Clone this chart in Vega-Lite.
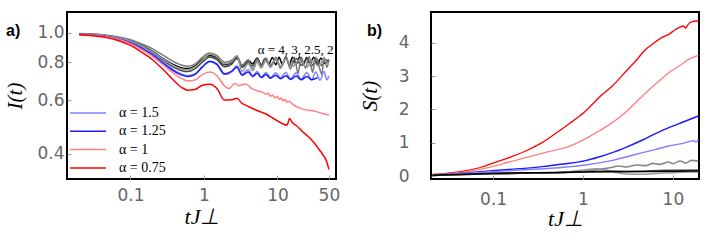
{
  "$schema": "https://vega.github.io/schema/vega-lite/v6.json",
  "padding": {"left": 3, "top": 11, "right": 0, "bottom": 0},
  "background": "white",
  "bounds": "flush",
  "spacing": 95,
  "config": {
    "view": {"stroke": "black", "strokeWidth": 2},
    "axis": {"domain": false, "grid": false, "labelFont": "DejaVu Sans", "labelFontSize": 17, "labelColor": "#666666", "tickColor": "#999999", "tickSize": -4, "titleFont": "Liberation Serif", "titleFontStyle": "italic", "titleFontWeight": "normal", "titleColor": "black", "titleFontSize": 21}
  },
  "datasets": {
    "Ia": [
      {"a":"4","t":0.02,"v":0.992},{"a":"4","t":0.03,"v":0.988},{"a":"4","t":0.045,"v":0.98},{"a":"4","t":0.066,"v":0.965},{"a":"4","t":0.1,"v":0.94},{"a":"4","t":0.14,"v":0.908},{"a":"4","t":0.2,"v":0.868},{"a":"4","t":0.28,"v":0.822},{"a":"4","t":0.38,"v":0.787},{"a":"4","t":0.5,"v":0.766},{"a":"4","t":0.6,"v":0.762},{"a":"4","t":0.75,"v":0.776},{"a":"4","t":0.95,"v":0.815},{"a":"4","t":1.2,"v":0.842},{"a":"4","t":1.5,"v":0.828},{"a":"4","t":1.9,"v":0.785},{"a":"4","t":2.4,"v":0.8},{"a":"4","t":2.8,"v":0.832},{"a":"4","t":3.3,"v":0.778},{"a":"4","t":4,"v":0.812},{"a":"4","t":4.6,"v":0.79},{"a":"4","t":5.3,"v":0.825},{"a":"4","t":6,"v":0.782},{"a":"4","t":6.8,"v":0.822},{"a":"4","t":7.6,"v":0.786},{"a":"4","t":8.5,"v":0.828},{"a":"4","t":9.5,"v":0.784},{"a":"4","t":10.5,"v":0.83},{"a":"4","t":11.7,"v":0.786},{"a":"4","t":13,"v":0.832},{"a":"4","t":14.5,"v":0.785},{"a":"4","t":16,"v":0.83},{"a":"4","t":18,"v":0.788},{"a":"4","t":20,"v":0.832},{"a":"4","t":22.5,"v":0.786},{"a":"4","t":25,"v":0.828},{"a":"4","t":28,"v":0.79},{"a":"4","t":31,"v":0.83},{"a":"4","t":35,"v":0.788},{"a":"4","t":39,"v":0.826},{"a":"4","t":44,"v":0.792},{"a":"4","t":50,"v":0.815},
      {"a":"3","t":0.02,"v":0.99},{"a":"3","t":0.045,"v":0.977},{"a":"3","t":0.1,"v":0.935},{"a":"3","t":0.14,"v":0.902},{"a":"3","t":0.2,"v":0.86},{"a":"3","t":0.28,"v":0.812},{"a":"3","t":0.38,"v":0.772},{"a":"3","t":0.5,"v":0.75},{"a":"3","t":0.6,"v":0.745},{"a":"3","t":0.75,"v":0.76},{"a":"3","t":0.95,"v":0.8},{"a":"3","t":1.2,"v":0.832},{"a":"3","t":1.5,"v":0.815},{"a":"3","t":1.9,"v":0.772},{"a":"3","t":2.4,"v":0.79},{"a":"3","t":2.8,"v":0.822},{"a":"3","t":3.3,"v":0.768},{"a":"3","t":4,"v":0.8},{"a":"3","t":4.6,"v":0.778},{"a":"3","t":5.3,"v":0.815},{"a":"3","t":6,"v":0.775},{"a":"3","t":7,"v":0.812},{"a":"3","t":8,"v":0.78},{"a":"3","t":9.5,"v":0.818},{"a":"3","t":11,"v":0.776},{"a":"3","t":13,"v":0.82},{"a":"3","t":15,"v":0.778},{"a":"3","t":18,"v":0.822},{"a":"3","t":21,"v":0.78},{"a":"3","t":25,"v":0.818},{"a":"3","t":29,"v":0.776},{"a":"3","t":34,"v":0.82},{"a":"3","t":40,"v":0.78},{"a":"3","t":46,"v":0.815},{"a":"3","t":50,"v":0.8},
      {"a":"2.5","t":0.02,"v":0.995},{"a":"2.5","t":0.045,"v":0.983},{"a":"2.5","t":0.1,"v":0.948},{"a":"2.5","t":0.14,"v":0.92},{"a":"2.5","t":0.2,"v":0.885},{"a":"2.5","t":0.28,"v":0.842},{"a":"2.5","t":0.38,"v":0.805},{"a":"2.5","t":0.5,"v":0.782},{"a":"2.5","t":0.6,"v":0.776},{"a":"2.5","t":0.75,"v":0.788},{"a":"2.5","t":0.95,"v":0.83},{"a":"2.5","t":1.2,"v":0.858},{"a":"2.5","t":1.5,"v":0.842},{"a":"2.5","t":1.9,"v":0.8},{"a":"2.5","t":2.4,"v":0.812},{"a":"2.5","t":2.8,"v":0.84},{"a":"2.5","t":3.3,"v":0.782},{"a":"2.5","t":4,"v":0.815},{"a":"2.5","t":4.6,"v":0.76},{"a":"2.5","t":5.3,"v":0.82},{"a":"2.5","t":6,"v":0.775},{"a":"2.5","t":7,"v":0.825},{"a":"2.5","t":8,"v":0.77},{"a":"2.5","t":9.5,"v":0.83},{"a":"2.5","t":11,"v":0.765},{"a":"2.5","t":13,"v":0.835},{"a":"2.5","t":15,"v":0.76},{"a":"2.5","t":17,"v":0.83},{"a":"2.5","t":19,"v":0.735},{"a":"2.5","t":21,"v":0.83},{"a":"2.5","t":24,"v":0.765},{"a":"2.5","t":27,"v":0.835},{"a":"2.5","t":30,"v":0.74},{"a":"2.5","t":33,"v":0.83},{"a":"2.5","t":37,"v":0.77},{"a":"2.5","t":40,"v":0.73},{"a":"2.5","t":43,"v":0.83},{"a":"2.5","t":47,"v":0.77},{"a":"2.5","t":50,"v":0.81},
      {"a":"2","t":0.02,"v":0.99},{"a":"2","t":0.045,"v":0.978},{"a":"2","t":0.1,"v":0.938},{"a":"2","t":0.2,"v":0.865},{"a":"2","t":0.28,"v":0.818},{"a":"2","t":0.38,"v":0.78},{"a":"2","t":0.5,"v":0.758},{"a":"2","t":0.6,"v":0.755},{"a":"2","t":0.75,"v":0.77},{"a":"2","t":0.95,"v":0.81},{"a":"2","t":1.2,"v":0.85},{"a":"2","t":1.5,"v":0.835},{"a":"2","t":1.9,"v":0.79},{"a":"2","t":2.4,"v":0.805},{"a":"2","t":2.8,"v":0.838},{"a":"2","t":3.3,"v":0.745},{"a":"2","t":4,"v":0.79},{"a":"2","t":4.6,"v":0.75},{"a":"2","t":5.3,"v":0.8},{"a":"2","t":6,"v":0.765},{"a":"2","t":7,"v":0.81},{"a":"2","t":8,"v":0.77},{"a":"2","t":9.5,"v":0.815},{"a":"2","t":11,"v":0.775},{"a":"2","t":13,"v":0.82},{"a":"2","t":16,"v":0.775},{"a":"2","t":20,"v":0.815},{"a":"2","t":25,"v":0.77},{"a":"2","t":30,"v":0.81},{"a":"2","t":36,"v":0.775},{"a":"2","t":42,"v":0.815},{"a":"2","t":50,"v":0.79},
      {"a":"1.5","t":0.02,"v":0.989},{"a":"1.5","t":0.03,"v":0.984},{"a":"1.5","t":0.045,"v":0.975},{"a":"1.5","t":0.066,"v":0.959},{"a":"1.5","t":0.1,"v":0.931},{"a":"1.5","t":0.14,"v":0.896},{"a":"1.5","t":0.2,"v":0.852},{"a":"1.5","t":0.28,"v":0.8},{"a":"1.5","t":0.38,"v":0.757},{"a":"1.5","t":0.5,"v":0.73},{"a":"1.5","t":0.6,"v":0.722},{"a":"1.5","t":0.75,"v":0.732},{"a":"1.5","t":0.95,"v":0.772},{"a":"1.5","t":1.2,"v":0.802},{"a":"1.5","t":1.5,"v":0.785},{"a":"1.5","t":1.9,"v":0.728},{"a":"1.5","t":2.4,"v":0.745},{"a":"1.5","t":2.8,"v":0.778},{"a":"1.5","t":3.3,"v":0.73},{"a":"1.5","t":4,"v":0.755},{"a":"1.5","t":4.6,"v":0.722},{"a":"1.5","t":5.3,"v":0.745},{"a":"1.5","t":6,"v":0.715},{"a":"1.5","t":7,"v":0.74},{"a":"1.5","t":8,"v":0.712},{"a":"1.5","t":9.5,"v":0.738},{"a":"1.5","t":11,"v":0.71},{"a":"1.5","t":13,"v":0.74},{"a":"1.5","t":15,"v":0.705},{"a":"1.5","t":18,"v":0.738},{"a":"1.5","t":21,"v":0.702},{"a":"1.5","t":25,"v":0.74},{"a":"1.5","t":29,"v":0.7},{"a":"1.5","t":33,"v":0.742},{"a":"1.5","t":38,"v":0.698},{"a":"1.5","t":43,"v":0.745},{"a":"1.5","t":47,"v":0.7},{"a":"1.5","t":50,"v":0.72},
      {"a":"1.25","t":0.02,"v":0.988},{"a":"1.25","t":0.03,"v":0.983},{"a":"1.25","t":0.045,"v":0.973},{"a":"1.25","t":0.066,"v":0.956},{"a":"1.25","t":0.1,"v":0.926},{"a":"1.25","t":0.14,"v":0.89},{"a":"1.25","t":0.2,"v":0.845},{"a":"1.25","t":0.28,"v":0.793},{"a":"1.25","t":0.38,"v":0.75},{"a":"1.25","t":0.5,"v":0.725},{"a":"1.25","t":0.6,"v":0.718},{"a":"1.25","t":0.75,"v":0.728},{"a":"1.25","t":0.95,"v":0.772},{"a":"1.25","t":1.2,"v":0.806},{"a":"1.25","t":1.5,"v":0.788},{"a":"1.25","t":1.9,"v":0.733},{"a":"1.25","t":2.4,"v":0.748},{"a":"1.25","t":2.8,"v":0.77},{"a":"1.25","t":3.3,"v":0.725},{"a":"1.25","t":4,"v":0.742},{"a":"1.25","t":4.6,"v":0.718},{"a":"1.25","t":5.3,"v":0.735},{"a":"1.25","t":6,"v":0.712},{"a":"1.25","t":7,"v":0.728},{"a":"1.25","t":8,"v":0.708},{"a":"1.25","t":9.5,"v":0.725},{"a":"1.25","t":11,"v":0.705},{"a":"1.25","t":13,"v":0.722},{"a":"1.25","t":15,"v":0.702},{"a":"1.25","t":18,"v":0.72},{"a":"1.25","t":21,"v":0.7},{"a":"1.25","t":25,"v":0.718},{"a":"1.25","t":29,"v":0.7},{"a":"1.25","t":35,"v":0.712},
      {"a":"1","t":0.02,"v":0.987},{"a":"1","t":0.03,"v":0.981},{"a":"1","t":0.045,"v":0.971},{"a":"1","t":0.066,"v":0.953},{"a":"1","t":0.1,"v":0.921},{"a":"1","t":0.14,"v":0.882},{"a":"1","t":0.2,"v":0.836},{"a":"1","t":0.28,"v":0.783},{"a":"1","t":0.38,"v":0.738},{"a":"1","t":0.5,"v":0.706},{"a":"1","t":0.6,"v":0.694},{"a":"1","t":0.75,"v":0.699},{"a":"1","t":0.95,"v":0.728},{"a":"1","t":1.2,"v":0.742},{"a":"1","t":1.5,"v":0.722},{"a":"1","t":1.9,"v":0.668},{"a":"1","t":2.2,"v":0.655},{"a":"1","t":2.6,"v":0.68},{"a":"1","t":3,"v":0.67},{"a":"1","t":3.7,"v":0.678},{"a":"1","t":4.5,"v":0.655},{"a":"1","t":5.5,"v":0.642},{"a":"1","t":6.2,"v":0.638},{"a":"1","t":6.9,"v":0.628},{"a":"1","t":7.5,"v":0.632},{"a":"1","t":8,"v":0.618},{"a":"1","t":8.6,"v":0.624},{"a":"1","t":9.2,"v":0.61},{"a":"1","t":9.9,"v":0.617},{"a":"1","t":10.6,"v":0.603},{"a":"1","t":11.3,"v":0.61},{"a":"1","t":12,"v":0.597},{"a":"1","t":12.8,"v":0.603},{"a":"1","t":13.6,"v":0.59},{"a":"1","t":14.5,"v":0.595},{"a":"1","t":16,"v":0.582},{"a":"1","t":19.6,"v":0.566},{"a":"1","t":25,"v":0.557},{"a":"1","t":33,"v":0.551},{"a":"1","t":40,"v":0.543},{"a":"1","t":50,"v":0.536},
      {"a":"0.75","t":0.02,"v":0.985},{"a":"0.75","t":0.03,"v":0.978},{"a":"0.75","t":0.045,"v":0.966},{"a":"0.75","t":0.066,"v":0.945},{"a":"0.75","t":0.1,"v":0.908},{"a":"0.75","t":0.14,"v":0.865},{"a":"0.75","t":0.2,"v":0.815},{"a":"0.75","t":0.28,"v":0.755},{"a":"0.75","t":0.38,"v":0.7},{"a":"0.75","t":0.5,"v":0.66},{"a":"0.75","t":0.6,"v":0.647},{"a":"0.75","t":0.75,"v":0.65},{"a":"0.75","t":0.95,"v":0.672},{"a":"0.75","t":1.2,"v":0.677},{"a":"0.75","t":1.5,"v":0.655},{"a":"0.75","t":1.9,"v":0.6},{"a":"0.75","t":2.4,"v":0.602},{"a":"0.75","t":2.8,"v":0.608},{"a":"0.75","t":3.3,"v":0.585},{"a":"0.75","t":4,"v":0.572},{"a":"0.75","t":5,"v":0.558},{"a":"0.75","t":6,"v":0.548},{"a":"0.75","t":7,"v":0.54},{"a":"0.75","t":8.5,"v":0.525},{"a":"0.75","t":10,"v":0.513},{"a":"0.75","t":12,"v":0.5},{"a":"0.75","t":13.5,"v":0.497},{"a":"0.75","t":14.6,"v":0.522},{"a":"0.75","t":16,"v":0.505},{"a":"0.75","t":18,"v":0.495},{"a":"0.75","t":22,"v":0.472},{"a":"0.75","t":26,"v":0.456},{"a":"0.75","t":30,"v":0.44},{"a":"0.75","t":36,"v":0.416},{"a":"0.75","t":42,"v":0.395},{"a":"0.75","t":46,"v":0.38},{"a":"0.75","t":50,"v":0.355}
    ],
    "Sb": [
      {"a":"0.75","t":0.0212,"v":0.05},{"a":"0.75","t":0.03,"v":0.08},{"a":"0.75","t":0.05,"v":0.16},{"a":"0.75","t":0.075,"v":0.27},{"a":"0.75","t":0.098,"v":0.38},{"a":"0.75","t":0.15,"v":0.55},{"a":"0.75","t":0.231,"v":0.75},{"a":"0.75","t":0.35,"v":1.0},{"a":"0.75","t":0.541,"v":1.35},{"a":"0.75","t":0.8,"v":1.68},{"a":"0.75","t":1.07,"v":1.95},{"a":"0.75","t":1.27,"v":2.15},{"a":"0.75","t":1.6,"v":2.42},{"a":"0.75","t":2.12,"v":2.7},{"a":"0.75","t":2.8,"v":3.05},{"a":"0.75","t":3.85,"v":3.45},{"a":"0.75","t":5,"v":3.8},{"a":"0.75","t":5.9,"v":3.95},{"a":"0.75","t":7.5,"v":4.15},{"a":"0.75","t":9,"v":4.25},{"a":"0.75","t":10.5,"v":4.38},{"a":"0.75","t":11.7,"v":4.45},{"a":"0.75","t":13,"v":4.5},{"a":"0.75","t":13.9,"v":4.44},{"a":"0.75","t":14.5,"v":4.52},{"a":"0.75","t":16.4,"v":4.63},{"a":"0.75","t":19.2,"v":4.65},
      {"a":"1","t":0.0212,"v":0.03},{"a":"1","t":0.05,"v":0.12},{"a":"1","t":0.098,"v":0.28},{"a":"1","t":0.15,"v":0.42},{"a":"1","t":0.231,"v":0.55},{"a":"1","t":0.35,"v":0.68},{"a":"1","t":0.54,"v":0.8},{"a":"1","t":0.64,"v":0.85},{"a":"1","t":1.07,"v":1.12},{"a":"1","t":1.5,"v":1.35},{"a":"1","t":2.12,"v":1.6},{"a":"1","t":3,"v":1.92},{"a":"1","t":3.85,"v":2.2},{"a":"1","t":5,"v":2.5},{"a":"1","t":7,"v":2.85},{"a":"1","t":9,"v":3.1},{"a":"1","t":11.7,"v":3.3},{"a":"1","t":15,"v":3.5},{"a":"1","t":19.2,"v":3.62},
      {"a":"1.25","t":0.0212,"v":0.03},{"a":"1.25","t":0.05,"v":0.09},{"a":"1.25","t":0.098,"v":0.16},{"a":"1.25","t":0.2,"v":0.22},{"a":"1.25","t":0.35,"v":0.28},{"a":"1.25","t":0.6,"v":0.36},{"a":"1.25","t":1.07,"v":0.46},{"a":"1.25","t":1.5,"v":0.57},{"a":"1.25","t":2.12,"v":0.7},{"a":"1.25","t":3,"v":0.86},{"a":"1.25","t":4.6,"v":1.08},{"a":"1.25","t":6.5,"v":1.28},{"a":"1.25","t":9,"v":1.45},{"a":"1.25","t":13,"v":1.62},{"a":"1.25","t":19.2,"v":1.8},
      {"a":"1.5","t":0.0212,"v":0.03},{"a":"1.5","t":0.05,"v":0.08},{"a":"1.5","t":0.098,"v":0.13},{"a":"1.5","t":0.2,"v":0.18},{"a":"1.5","t":0.54,"v":0.25},{"a":"1.5","t":1.07,"v":0.33},{"a":"1.5","t":2.12,"v":0.47},{"a":"1.5","t":3,"v":0.57},{"a":"1.5","t":4.6,"v":0.7},{"a":"1.5","t":6.5,"v":0.8},{"a":"1.5","t":9,"v":0.9},{"a":"1.5","t":13,"v":0.98},{"a":"1.5","t":17,"v":1.06},{"a":"1.5","t":18,"v":1.02},{"a":"1.5","t":19.2,"v":1.1},
      {"a":"2","t":0.0212,"v":0.02},{"a":"2","t":0.1,"v":0.07},{"a":"2","t":0.3,"v":0.09},{"a":"2","t":0.6,"v":0.1},{"a":"2","t":1,"v":0.13},{"a":"2","t":1.5,"v":0.2},{"a":"2","t":2,"v":0.25},{"a":"2","t":2.5,"v":0.3},{"a":"2","t":3,"v":0.27},{"a":"2","t":4,"v":0.33},{"a":"2","t":5,"v":0.31},{"a":"2","t":6,"v":0.38},{"a":"2","t":7,"v":0.35},{"a":"2","t":9,"v":0.42},{"a":"2","t":10,"v":0.37},{"a":"2","t":12,"v":0.45},{"a":"2","t":14,"v":0.39},{"a":"2","t":16,"v":0.47},{"a":"2","t":19.2,"v":0.45},
      {"a":"2.5","t":0.0212,"v":0.02},{"a":"2.5","t":0.1,"v":0.07},{"a":"2.5","t":0.5,"v":0.1},{"a":"2.5","t":1,"v":0.18},{"a":"2.5","t":1.4,"v":0.22},{"a":"2.5","t":2,"v":0.15},{"a":"2.5","t":3,"v":0.06},{"a":"2.5","t":4.5,"v":0.05},{"a":"2.5","t":7,"v":0.08},{"a":"2.5","t":10,"v":0.1},{"a":"2.5","t":15,"v":0.12},{"a":"2.5","t":19.2,"v":0.12},
      {"a":"3","t":0.0212,"v":0.02},{"a":"3","t":0.1,"v":0.07},{"a":"3","t":0.5,"v":0.1},{"a":"3","t":1,"v":0.13},{"a":"3","t":2,"v":0.15},{"a":"3","t":4,"v":0.14},{"a":"3","t":8,"v":0.17},{"a":"3","t":19.2,"v":0.18},
      {"a":"4","t":0.0212,"v":0.02},{"a":"4","t":0.05,"v":0.05},{"a":"4","t":0.1,"v":0.08},{"a":"4","t":0.3,"v":0.1},{"a":"4","t":1,"v":0.12},{"a":"4","t":3,"v":0.13},{"a":"4","t":10,"v":0.14},{"a":"4","t":19.2,"v":0.15}
    ],
    "note": [{"label": "α = 4, 3, 2.5, 2"}]
  },
  "resolve": {"scale": {"color": "independent", "strokeWidth": "independent"}, "legend": {"color": "independent"}},
  "hconcat": [
    {
      "width": 269,
      "height": 167,
      "title": {"text": "a)", "anchor": "start", "frame": "group", "orient": "top", "offset": 0, "baseline": "top", "dx": -61, "dy": 27, "fontSize": 16, "fontWeight": "bold", "font": "Liberation Sans", "color": "black"},
      "layer": [
        {
          "data": {"name": "Ia"},
          "mark": {"type": "line", "clip": true, "interpolate": "monotone"},
          "encoding": {
            "x": {"field": "t", "type": "quantitative", "scale": {"type": "log", "domain": [0.0137, 62.5], "nice": false}, "axis": {"values": [0.1, 1, 10, 50], "format": "~g", "title": "tJ⊥", "titleFontSize": 22, "labelPadding": 12, "titlePadding": 3}},
            "y": {"field": "v", "type": "quantitative", "scale": {"type": "log", "domain": [0.33, 1.17], "nice": false}, "axis": {"values": [0.4, 0.6, 0.8, 1.0], "format": ".1f", "title": "I(t)", "labelPadding": 7, "titlePadding": 11}},
            "color": {"field": "a", "type": "nominal", "scale": {"domain": ["2", "2.5", "3", "4", "1.5", "1.25", "1", "0.75"], "range": ["#999999", "#777777", "#444444", "#000000", "#8080ff", "#1a1aff", "#ff8080", "#ff0000"]},
              "legend": {"orient": "none", "legendX": 14, "legendY": 94, "values": ["1.5", "1.25", "1", "0.75"], "title": null, "symbolType": "M-4.5,0H4.5", "symbolSize": 64, "symbolStrokeWidth": 2, "labelFont": "Liberation Serif", "labelFontSize": 14, "labelColor": "black", "labelExpr": "'α = ' + datum.label", "labelOffset": 24, "padding": 0, "rowPadding": 4.3}},
            "strokeWidth": {"field": "a", "type": "ordinal", "scale": {"domain": ["2", "2.5", "3", "4", "1.5", "1.25", "1", "0.75"], "range": [1.5, 1.5, 1.5, 2.2, 1.6, 1.6, 1.6, 2]}, "legend": null}
          }
        },
        {
          "data": {"name": "note"},
          "mark": {"type": "text", "font": "Liberation Serif", "fontSize": 13, "align": "right", "baseline": "middle", "color": "black"},
          "encoding": {"x": {"datum": 58}, "y": {"datum": 0.88}, "text": {"field": "label"}}
        }
      ]
    },
    {
      "width": 268,
      "height": 167,
      "title": {"text": "b)", "anchor": "start", "frame": "group", "orient": "top", "offset": 0, "baseline": "top", "dx": -64, "dy": 27, "fontSize": 16, "fontWeight": "bold", "font": "Liberation Sans", "color": "black"},
      "data": {"name": "Sb"},
      "mark": {"type": "line", "clip": true, "interpolate": "monotone"},
      "encoding": {
        "x": {"field": "t", "type": "quantitative", "scale": {"type": "log", "domain": [0.0204, 19.5], "nice": false}, "axis": {"values": [0.1, 1, 10], "format": "~g", "title": "tJ⊥", "titleFontSize": 22, "labelPadding": 16, "titlePadding": 1}},
        "y": {"field": "v", "type": "quantitative", "scale": {"domain": [-0.09, 4.92], "nice": false}, "axis": {"values": [0, 1, 2, 3, 4], "title": "S(t)", "labelPadding": 26, "titlePadding": 18}},
        "color": {"field": "a", "type": "nominal", "scale": {"domain": ["2", "2.5", "3", "4", "1.5", "1.25", "1", "0.75"], "range": ["#888888", "#999999", "#555555", "#000000", "#8080ff", "#1a1aff", "#ff8080", "#ff0000"]}, "legend": null},
        "strokeWidth": {"field": "a", "type": "ordinal", "scale": {"domain": ["2", "2.5", "3", "4", "1.5", "1.25", "1", "0.75"], "range": [1.6, 1.3, 1.3, 2.2, 1.6, 1.6, 1.6, 2]}, "legend": null}
      }
    }
  ]
}
